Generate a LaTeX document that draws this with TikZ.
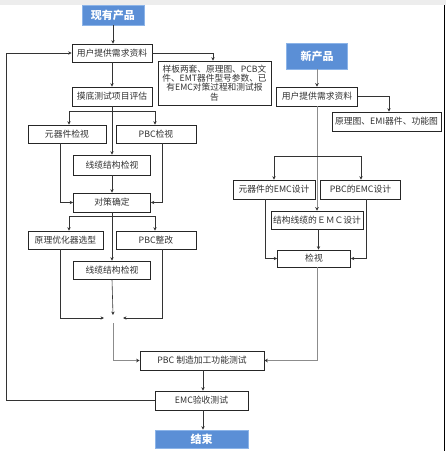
\documentclass[tikz,border=0pt]{standalone}
\usepackage{fontspec}
\setmainfont{Noto Sans CJK SC}
\usetikzlibrary{arrows.meta}
\definecolor{blueC}{RGB}{91,143,214}
\definecolor{blueB}{RGB}{140,180,232}
\definecolor{txt}{RGB}{50,50,50}
\tikzset{
  box/.style={draw=black!85, line width=0.7pt, fill=white, text=txt, inner sep=0pt,
    align=center, font=\fontsize{8.8}{10}\selectfont},
  bluebox/.style={draw=blueB, line width=0.7pt, fill=blueC, text=white, inner sep=0pt,
    font=\fontsize{11}{13}\selectfont\bfseries},
  ln/.style={draw=black!80, line width=0.6pt},
  arr/.style={ln, -{Stealth[length=3.5pt,width=3.4pt]}},
  gln/.style={draw=black!45, line width=1pt},
  garr/.style={gln, -{Stealth[length=3.5pt,width=3.6pt,color=black!80]}},
}
\begin{document}
\begin{tikzpicture}[x=1pt,y=-1pt]
\useasboundingbox (0,0) rectangle (446,451);
\fill[black!7] (0,0) rectangle (446,5);
\draw[line width=1.2pt] (444.5,5) -- (444.5,451);

% left column
\node[bluebox, minimum width=62pt, minimum height=20pt] (xy) at (113,15) {现有产品};
\node[box, minimum width=80pt, minimum height=18pt] (u1) at (112,53) {用户提供需求资料};
\node[box, minimum width=113pt, minimum height=44pt, font=\fontsize{8.7}{9.3}\selectfont] (info) at (214.5,83)
  {样板两套、原理图、PCB文\\件、EMT器件型号参数、已\\有EMC对策过程和测试报\\告};
\node[box, minimum width=80pt, minimum height=19pt] (md) at (112,96.5) {摸底测试项目评估};
\node[box, minimum width=78pt, minimum height=18pt] (c1) at (67,134) {元器件检视};
\node[box, minimum width=80pt, minimum height=18pt] (p1) at (156,134) {PBC检视};
\node[box, minimum width=77pt, minimum height=20pt] (x1) at (112,165) {线缆结构检视};
\node[box, minimum width=77pt, minimum height=19pt] (dc) at (112,202.5) {对策确定};
\node[box, minimum width=75pt, minimum height=18pt] (yl) at (65.5,240) {原理优化器选型};
\node[box, minimum width=80pt, minimum height=18pt] (pz) at (156,240) {PBC整改};
\node[box, minimum width=77pt, minimum height=18pt] (x2) at (112,270) {线缆结构检视};
\coordinate (cv) at (113,318);
\node[box, minimum width=124pt, minimum height=19pt] (pm) at (202,360.5) {PBC 制造加工功能测试};
\node[box, minimum width=93pt, minimum height=19pt] (emc) at (201.5,400.5) {EMC验收测试};
\node[bluebox, minimum width=93pt, minimum height=18pt] (end) at (201.5,439) {结束};

% right column
\node[bluebox, minimum width=61pt, minimum height=26pt] (xp) at (317,56) {新产品};
\node[box, minimum width=81pt, minimum height=19pt] (u2) at (317,96.5) {用户提供需求资料};
\node[box, minimum width=109pt, minimum height=19pt] (sch) at (386.5,121.5) {原理图、EMI器件、功能图};
\node[box, minimum width=82pt, minimum height=19pt] (ce) at (274,189.5) {元器件的EMC设计};
\node[box, minimum width=80pt, minimum height=19pt] (pe) at (360.5,189.5) {PBC的EMC设计};
\node[box, minimum width=92pt, minimum height=18pt] (je) at (317,220) {结构线缆的ＥＭＣ设计};
\node[box, minimum width=73pt, minimum height=17pt] (jv) at (314,258.5) {检视};

% junction coordinates
\coordinate (j1l) at (69,111);
\coordinate (j1r) at (155,111);
\coordinate (j2l) at (69,216);
\coordinate (j2r) at (155,216);
\coordinate (j3l) at (274,156);
\coordinate (j3r) at (361,156);

% left connectors
\draw[arr] (xy.south) -- (xy.south |- u1.north);
\draw[arr] (u1.east) -| ([xshift=-1.5pt]info.north);
\draw[arr] (u1.south) -- (md.north);
\draw[arr] (md.south) -- (x1.north);
\draw[ln] (j1l) -- (j1r);
\draw[arr] (j1l) -- (j1l |- c1.north);
\draw[arr] (j1r) -- (j1r |- p1.north);
\draw[arr] ([xshift=-7pt]c1.south) |- (dc.west);
\draw[arr] ([xshift=6pt]p1.south) |- (dc.east);
\draw[arr] (x1.south) -- (dc.north);
\draw[arr] (dc.south) -- (x2.north);
\draw[ln] (j2l) -- (j2r);
\draw[arr] (j2l) -- (j2l |- yl.north);
\draw[arr] (j2r) -- (j2r |- pz.north);
\draw[arr] ([xshift=-5.5pt]yl.south) |- ([xshift=-9pt]cv);
\draw[arr] ([xshift=6pt]pz.south) |- ([xshift=10pt]cv);
\draw[arr] (x2.south) -- ([yshift=3pt]cv);
\draw[garr] ([yshift=-5pt]cv) |- (pm.west);
\draw[arr] ([xshift=1pt]pm.south) -- ([xshift=1.5pt]emc.north);
\draw[arr] (emc.west) -- ++(-148,0) |- (u1.west);
\draw[arr] ([xshift=1.5pt]emc.south) -- ([xshift=1.5pt]end.north);

% right connectors
\draw[garr] (xp.south) -- (u2.north);
\draw[arr] (u2.east) -| ([xshift=2.5pt]sch.north);
\draw[garr] (u2.south) -- (je.north);
\draw[ln] (j3l) -- (j3r);
\draw[arr] (j3l) -- (j3l |- ce.north);
\draw[arr] (j3r) -- (j3r |- pe.north);
\draw[arr] ([xshift=-9pt]ce.south) |- (jv.west);
\draw[arr] ([xshift=5.5pt]pe.south) |- (jv.east);
\draw[arr] ([xshift=1.5pt]je.south) -- ([xshift=4.5pt]jv.north);
\draw[garr] ([xshift=3pt]jv.south) |- (pm.east);
\end{tikzpicture}
\end{document}
